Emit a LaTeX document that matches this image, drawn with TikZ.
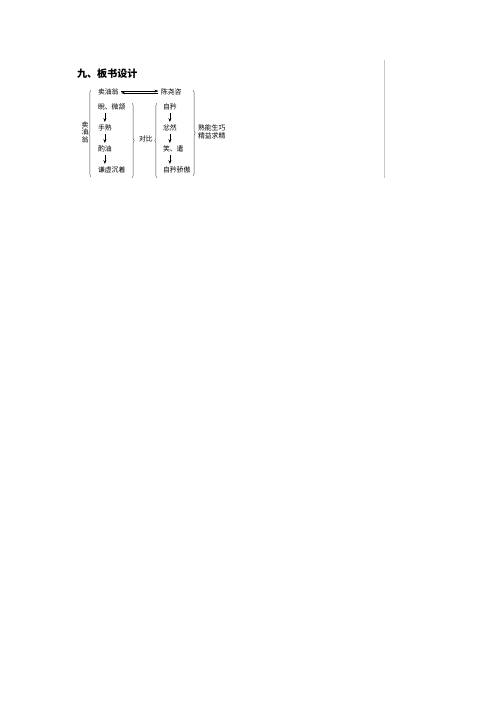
\documentclass[tikz,border=0pt]{standalone}
\usepackage{fontspec}
\newfontfamily\cjk{Noto Sans CJK SC}
\usetikzlibrary{arrows.meta,decorations.pathreplacing}
\tikzset{
  word/.style={font=\cjk\fontsize{8.2}{9.5}\selectfont,inner sep=1pt,anchor=west},
  down/.style={-{Stealth[length=4.6pt,width=3.4pt]},line width=0.5pt,shorten <=2.4pt,shorten >=2.2pt},
  swap/.style={-{Stealth[length=4.8pt,width=3.2pt]},line width=0.5pt,shorten <=1.8pt,shorten >=1.8pt},
  curly/.style={decorate,decoration={brace,amplitude=2.6pt},line width=0.45pt,black!75}
}
\begin{document}
\begin{tikzpicture}[x=0.042cm,y=0.042cm]
\useasboundingbox (0,0) rectangle (500,-707);
\node(title) at (77,-74)[anchor=west,inner sep=0pt,font=\cjk\bfseries\fontsize{12}{14}\selectfont] {九、板书设计};
\node(name) at (85,-132)[font=\cjk\fontsize{8.2}{8.9}\selectfont,align=center,inner sep=0pt] {卖\\油\\翁};
\node(seller) at (97,-92)[word] {卖油翁};
\node(chen) at (160,-92)[word] {陈尧咨};
\node(a1) at (97,-107)[word] {睨、微颔};
\node(a2) at (97,-128)[word] {手熟};
\node(a3) at (97,-149)[word] {酌油};
\node(a4) at (97,-170)[word] {谦虚沉着};
\node(cmp) at (138,-139)[word] {对比};
\node(b1) at (162,-107)[word] {自矜};
\node(b2) at (162,-128)[word] {忿然};
\node(b3) at (162,-149)[word] {笑、遣};
\node(b4) at (162,-170)[word] {自矜骄傲};
\node(moral) at (197,-132)[word,align=left] {熟能生巧\\精益求精};
\path [swap]
  ([yshift=1.1pt]seller.east)   edge ([yshift=1.1pt]chen.west)
  ([yshift=-1.1pt]chen.west)    edge ([yshift=-1.1pt]seller.east);
\path [down]
  (a1.south -| a2)  edge  (a2.north)
  (a2.south)        edge  (a3.north)
  (a3.south)        edge  (a4.north -| a3)
  (b1.south)        edge  (b2.north)
  (b2.south)        edge  (b3.north -| b2)
  (b3.south -| b2)  edge  (b4.north -| b2);
% braces
\coordinate(l1) at (91,-177);  \coordinate(l2) at (91,-90);
\coordinate(m1) at (132,-103); \coordinate(m2) at (132,-178);
\coordinate(n1) at (157,-178); \coordinate(n2) at (157,-103);
\coordinate(r1) at (193,-90);  \coordinate(r2) at (193,-176);
\draw[curly] (l1) -- (l2);
\draw[curly] (m1) -- (m2);
\draw[curly] (n1) -- (n2);
\draw[curly] (r1) -- (r2);
\coordinate(e1) at (384,-60); \coordinate(e2) at (384,-178);
\draw[black!22,line width=1pt] (e1) -- (e2);
\end{tikzpicture}
\end{document}
